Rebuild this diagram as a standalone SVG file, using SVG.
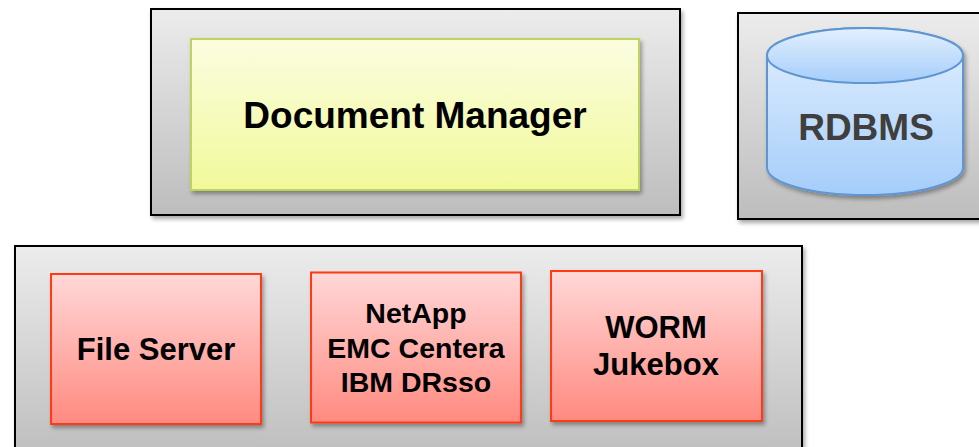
<svg xmlns="http://www.w3.org/2000/svg" width="979" height="447" viewBox="0 0 979 447">
<defs>
<linearGradient id="gGray" x1="0" y1="0" x2="0" y2="1">
<stop offset="0" stop-color="#ececec"/>
<stop offset="1" stop-color="#bdbdbd"/>
</linearGradient>
<linearGradient id="gYellow" x1="0" y1="0" x2="0" y2="1">
<stop offset="0" stop-color="#fbfde0"/>
<stop offset="1" stop-color="#f1f99a"/>
</linearGradient>
<linearGradient id="gRed" x1="0" y1="0" x2="0" y2="1">
<stop offset="0" stop-color="#ffd8d8"/>
<stop offset="1" stop-color="#ff8a80"/>
</linearGradient>
<linearGradient id="gBlue" x1="0" y1="0" x2="0" y2="1">
<stop offset="0" stop-color="#e3f0fe"/>
<stop offset="1" stop-color="#a5cdfa"/>
</linearGradient>
<filter id="sh" x="-10%" y="-10%" width="120%" height="130%">
<feGaussianBlur in="SourceAlpha" stdDeviation="2"/>
<feOffset dx="2" dy="3" result="b"/>
<feComponentTransfer><feFuncA type="linear" slope="0.35"/></feComponentTransfer>
<feMerge><feMergeNode/><feMergeNode in="SourceGraphic"/></feMerge>
</filter>
</defs>
<style>
.cont{fill:url(#gGray);stroke:#000;stroke-width:2;filter:url(#sh)}
.yel{fill:url(#gYellow);stroke:#bfd35f;stroke-width:2;filter:url(#sh)}
.red{fill:url(#gRed);stroke:#ff3a12;stroke-width:2;filter:url(#sh)}
.cyl{fill:url(#gBlue);stroke:#5e96d2;stroke-width:2}
text{font-family:"Liberation Sans",Arial,sans-serif;font-weight:bold;text-anchor:middle;fill:#000}
</style>
<g id="dm-container">
<rect class="cont" x="151" y="9" width="529" height="206"/>
</g>
<g id="document-manager">
<rect class="yel" x="191" y="39" width="448" height="151"/>
<text x="415" y="128" font-size="37">Document Manager</text>
</g>
<g id="db-container">
<rect class="cont" x="738" y="13" width="260" height="206"/>
</g>
<g id="rdbms">
<g filter="url(#sh)">
<path class="cyl" d="M767,55.5 L767,167.5 A98,27.5 0 0 0 963,167.5 L963,55.5 A98,27.5 0 0 0 767,55.5 Z"/>
<ellipse class="cyl" cx="865" cy="55.5" rx="98" ry="27.5"/>
</g>
<text x="866" y="140" font-size="37" style="fill:#3f3f3f">RDBMS</text>
</g>
<g id="storage-container">
<rect class="cont" x="15" y="246" width="787" height="215"/>
</g>
<g id="file-server">
<rect class="red" x="51" y="274" width="210" height="150"/>
<text x="156" y="360" font-size="31">File Server</text>
</g>
<g id="netapp">
<rect class="red" x="311" y="272.5" width="210" height="150"/>
<text x="416" y="323" font-size="28.5">NetApp</text>
<text x="416" y="357.5" font-size="28.5">EMC Centera</text>
<text x="416" y="392" font-size="28.5">IBM DRsso</text>
</g>
<g id="worm">
<rect class="red" x="551" y="271" width="211" height="150"/>
<text x="656" y="338" font-size="31">WORM</text>
<text x="656" y="375" font-size="31">Jukebox</text>
</g>
<g id="connectors"></g>
</svg>
